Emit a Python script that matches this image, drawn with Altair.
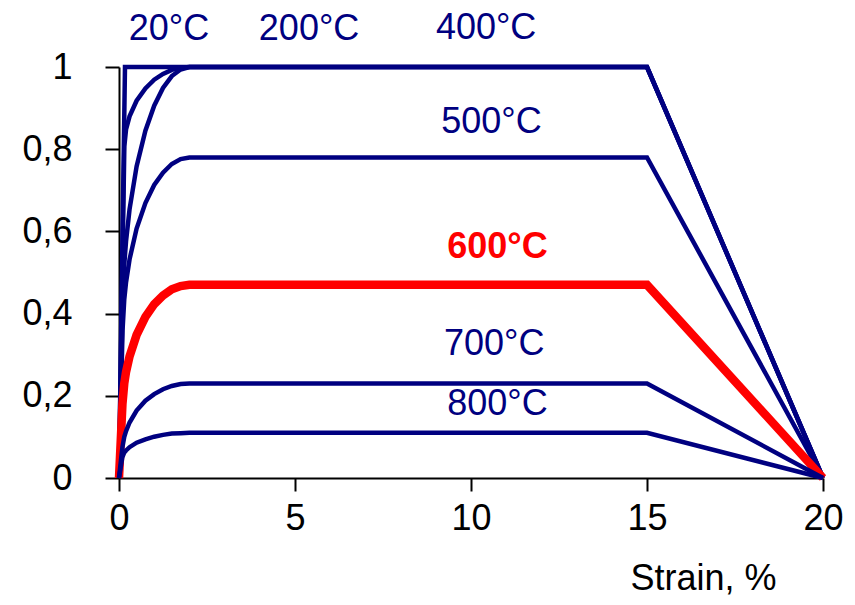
import altair as alt
import pandas as pd

# Normalised stress vs strain (%) for steel at elevated temperatures
strain_20 = [0, 0.17, 2, 15, 20]
stress_20 = [0, 1.0, 1.0, 1.0, 0]

strain_200 = [0, 0.152, 0.2, 0.3, 0.5, 0.75, 1.0, 1.25, 1.5, 1.75, 2.0, 15, 20]
stress_200 = [0, 0.807, 0.848, 0.880, 0.918, 0.948, 0.969, 0.983, 0.993, 0.998, 1.0, 1.0, 0]

strain_400 = [0, 0.101, 0.15, 0.2, 0.3, 0.5, 0.75, 1.0, 1.25, 1.5, 1.75, 2.0, 15, 20]
stress_400 = [0, 0.42, 0.520, 0.576, 0.654, 0.758, 0.845, 0.906, 0.949, 0.978, 0.994, 1.0, 1.0, 0]

strain_500 = [0, 0.101, 0.15, 0.2, 0.3, 0.5, 0.75, 1.0, 1.25, 1.5, 1.75, 2.0, 15, 20]
stress_500 = [0, 0.36, 0.435, 0.476, 0.532, 0.607, 0.669, 0.713, 0.743, 0.764, 0.776, 0.78, 0.78, 0]

strain_600 = [0, 0.098, 0.15, 0.2, 0.3, 0.5, 0.75, 1.0, 1.25, 1.5, 1.75, 2.0, 15, 20]
stress_600 = [0, 0.18, 0.230, 0.258, 0.296, 0.348, 0.392, 0.423, 0.444, 0.459, 0.467, 0.47, 0.47, 0]

strain_700 = [0, 0.0975, 0.15, 0.2, 0.3, 0.5, 0.75, 1.0, 1.25, 1.5, 1.75, 2.0, 15, 20]
stress_700 = [0, 0.075, 0.100, 0.114, 0.135, 0.164, 0.188, 0.204, 0.216, 0.224, 0.2285, 0.23, 0.23, 0]

strain_800 = [0, 0.094, 0.15, 0.2, 0.3, 0.5, 0.75, 1.0, 1.25, 1.5, 1.75, 2.0, 15, 20]
stress_800 = [0, 0.05, 0.062, 0.067, 0.075, 0.086, 0.094, 0.1005, 0.105, 0.108, 0.109, 0.11, 0.11, 0]

curves = [
    ("20°C", strain_20, stress_20),
    ("200°C", strain_200, stress_200),
    ("400°C", strain_400, stress_400),
    ("500°C", strain_500, stress_500),
    ("600°C", strain_600, stress_600),
    ("700°C", strain_700, stress_700),
    ("800°C", strain_800, stress_800),
]

label_text = ["20°C", "200°C", "400°C", "500°C", "600°C", "700°C", "800°C"]
label_x = [1.42, 5.4, 10.43, 10.58, 10.75, 10.66, 10.75]
label_y = [1.066, 1.066, 1.068, 0.839, 0.535, 0.299, 0.153]

x_ticks = [0, 5, 10, 15, 20]
y_ticks = [0, 0.2, 0.4, 0.6, 0.8, 1.0]

NAVY = "#000080"
RED = "#FF0000"
FONT = "Liberation Sans"

rows = []
for name, xs, ys in curves:
    for i, (xv, yv) in enumerate(zip(xs, ys)):
        rows.append({"curve": name, "strain": xv, "stress": yv, "idx": i})
df = pd.DataFrame(rows)

labels = pd.DataFrame({"label": label_text, "x": label_x, "y": label_y})

xscale = alt.Scale(domain=[0, 20], nice=False, zero=False)
yscale = alt.Scale(domain=[0, 1], nice=False, zero=False)

xaxis = alt.Axis(
    values=x_ticks, grid=False, domainColor="black", domainWidth=2,
    tickColor="black", tickWidth=2, tickSize=13, labelFont=FONT, labelFontSize=36,
    labelColor="black", labelPadding=10, labelFlush=False,
    title="Strain, %", titleFont=FONT, titleFontSize=36, titleFontWeight="normal",
    titleColor="black", titleX=584, titleY=111, titleAlign="center",
    titleBaseline="alphabetic", titleAnchor="start",
)
yaxis = alt.Axis(
    values=y_ticks, grid=False, domainColor="black", domainWidth=2,
    tickColor="black", tickWidth=2, tickSize=14, labelFont=FONT, labelFontSize=36,
    labelColor="black", labelPadding=33, labelFlush=False,
    labelExpr="replace(format(datum.value, '.1~f'), '.', ',')", title=None,
)

layers = []
for name, _, _ in curves:
    color = RED if name == "600°C" else NAVY
    width = 8.5 if name == "600°C" else 4.5
    layers.append(
        alt.Chart(df).transform_filter(alt.datum.curve == name)
        .mark_line(color=color, strokeWidth=width, strokeJoin="miter")
        .encode(
            x=alt.X("strain:Q", scale=xscale, axis=xaxis),
            y=alt.Y("stress:Q", scale=yscale, axis=yaxis),
            order=alt.Order("idx:Q"),
        )
    )

text_navy = alt.Chart(labels).transform_filter(alt.datum.label != "600°C").mark_text(
    font=FONT, fontSize=36, color=NAVY, align="center", baseline="alphabetic"
).encode(
    x=alt.X("x:Q", scale=xscale, axis=xaxis),
    y=alt.Y("y:Q", scale=yscale, axis=yaxis),
    text="label:N",
)

text_red = alt.Chart(labels).transform_filter(alt.datum.label == "600°C").mark_text(
    font=FONT, fontSize=36, color=RED, fontWeight="bold", align="center", baseline="alphabetic"
).encode(
    x=alt.X("x:Q", scale=xscale, axis=xaxis),
    y=alt.Y("y:Q", scale=yscale, axis=yaxis),
    text="label:N",
)

chart = alt.layer(*layers, text_navy, text_red).properties(
    width=704, height=411,
    background="white",
    autosize=alt.AutoSizeParams(type="none"),
    padding={"left": 111, "top": 59, "right": 24, "bottom": 119},
).configure_view(stroke=None, strokeWidth=0)

chart.save("out.html", embed_options={"renderer": "svg", "actions": False})
